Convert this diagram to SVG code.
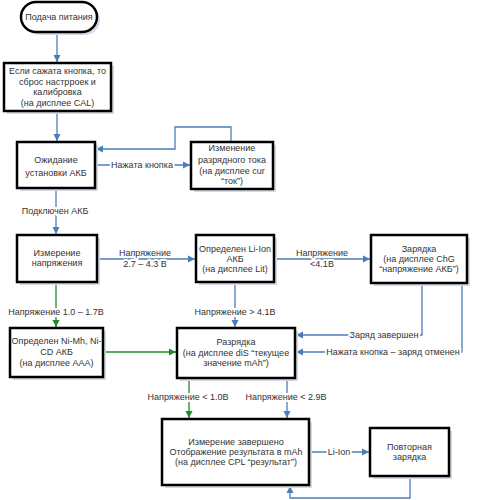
<svg xmlns="http://www.w3.org/2000/svg" width="479" height="500" viewBox="0 0 479 500">
<defs>
<style>
.box{fill:#ffffff;stroke:#000000;stroke-width:2.5}
.sh{fill:#d3dae6;stroke:none}
.t{font-family:"Liberation Sans",Arial,sans-serif;font-size:9px;fill:#333333;text-anchor:middle}
.lbl{font-family:"Liberation Sans",Arial,sans-serif;font-size:9px;fill:#333333;text-anchor:middle;stroke:#ffffff;stroke-width:4;paint-order:stroke;stroke-linejoin:round}
.cb{fill:none;stroke:#4a7ebb;stroke-width:1.3}
.cg{fill:none;stroke:#23882a;stroke-width:1.3}
</style>
<marker id="ab" markerWidth="8" markerHeight="8" refX="7" refY="4" orient="auto" markerUnits="userSpaceOnUse">
<path d="M0,0.5 L7,4 L0,7.5 Z" fill="#4a7ebb"/>
</marker>
<marker id="ag" markerWidth="8" markerHeight="8" refX="7" refY="4" orient="auto" markerUnits="userSpaceOnUse">
<path d="M0,0.5 L7,4 L0,7.5 Z" fill="#23882a"/>
</marker>
</defs>
<rect width="479" height="500" fill="#ffffff"/>

<g id="connectors">
<path class="cb" d="M57,32 V62" marker-end="url(#ab)"/>
<path class="cb" d="M57,111 V141" marker-end="url(#ab)"/>
<path class="cb" d="M96,165 H190" marker-end="url(#ab)"/>
<path class="cb" d="M231,141 V127 H175 V149 H96" marker-end="url(#ab)"/>
<path class="cb" d="M56,189 V234" marker-end="url(#ab)"/>
<path class="cb" d="M98,259 H195" marker-end="url(#ab)"/>
<path class="cb" d="M275,259 H370" marker-end="url(#ab)"/>
<path class="cb" d="M235,283 V327" marker-end="url(#ab)"/>
<path class="cg" d="M56,283 V327" marker-end="url(#ag)"/>
<path class="cg" d="M104,352 H176" marker-end="url(#ag)"/>
<path class="cb" d="M422,284 V335 H296" marker-end="url(#ab)"/>
<path class="cb" d="M462,284 V352 H296" marker-end="url(#ab)"/>
<path class="cg" d="M189,379 V418" marker-end="url(#ag)"/>
<path class="cb" d="M287,379 V418" marker-end="url(#ab)"/>
<path class="cb" d="M310,452 H369" marker-end="url(#ab)"/>
<path class="cb" d="M410,477 V498 H290 V486" marker-end="url(#ab)"/>
<text class="lbl" x="142" y="168">Нажата кнопка</text>
<text class="lbl" x="55" y="214">Подключен АКБ</text>
<text class="lbl" x="145" y="256">Напряжение</text>
<text class="lbl" x="145" y="267">2.7 – 4.3 В</text>
<text class="lbl" x="322" y="256">Напряжение</text>
<text class="lbl" x="322" y="267">&lt;4.1В</text>
<text class="lbl" x="235" y="315">Напряжение &gt; 4.1В</text>
<text class="lbl" x="56" y="315">Напряжение 1.0 – 1.7В</text>
<text class="lbl" x="384" y="338">Заряд завершен</text>
<text class="lbl" x="393" y="355">Нажата кнопка – заряд отменен</text>
<text class="lbl" x="188" y="400">Напряжение &lt; 1.0В</text>
<text class="lbl" x="286" y="400">Напряжение &lt; 2.9В</text>
<text class="lbl" x="339" y="455">Li-Ion</text>
</g>

<g id="start">
<rect class="sh" x="24" y="5" width="76" height="30" rx="15"/>
<rect class="box" x="21" y="2" width="76" height="30" rx="15"/>
<text class="t" x="59" y="20">Подача питания</text>
</g>

<g id="reset">
<rect class="sh" x="7" y="66" width="107" height="48"/>
<rect class="box" x="4" y="63" width="107" height="48"/>
<text class="t" x="57.5" y="74">Если сажата кнопка, то</text>
<text class="t" x="57.5" y="85">сброс настрроек и</text>
<text class="t" x="57.5" y="95">калибровка</text>
<text class="t" x="57.5" y="106">(на дисплее CAL)</text>
</g>

<g id="wait">
<rect class="sh" x="20" y="145" width="78" height="46"/>
<rect class="box" x="17" y="142" width="78" height="46"/>
<text class="t" x="56" y="163">Ожидание</text>
<text class="t" x="56" y="176">установки АКБ</text>
</g>

<g id="current">
<rect class="sh" x="194" y="145" width="82" height="47"/>
<rect class="box" x="191" y="142" width="82" height="47"/>
<text class="t" x="232" y="151">Изменение</text>
<text class="t" x="232" y="163">разрядного тока</text>
<text class="t" x="232" y="174">(на дисплее cur</text>
<text class="t" x="232" y="184">“ток”)</text>
</g>

<g id="measure">
<rect class="sh" x="20" y="238" width="80" height="47"/>
<rect class="box" x="17" y="235" width="80" height="47"/>
<text class="t" x="57" y="256">Измерение</text>
<text class="t" x="57" y="266">напряжения</text>
</g>

<g id="liion">
<rect class="sh" x="199" y="238" width="78" height="47"/>
<rect class="box" x="196" y="235" width="78" height="47"/>
<text class="t" x="235" y="252">Определен Li-Ion</text>
<text class="t" x="235" y="262">АКБ</text>
<text class="t" x="235" y="272">(на дисплее Lit)</text>
</g>

<g id="charge">
<rect class="sh" x="374" y="238" width="96" height="48"/>
<rect class="box" x="371" y="235" width="96" height="48"/>
<text class="t" x="419" y="252">Зарядка</text>
<text class="t" x="419" y="262">(на дисплее ChG</text>
<text class="t" x="419" y="272">“напряжение АКБ”)</text>
</g>

<g id="nimh">
<rect class="sh" x="13" y="331" width="93" height="49"/>
<rect class="box" x="10" y="328" width="93" height="49"/>
<text class="t" x="56.5" y="344">Определен Ni-Mh, Ni-</text>
<text class="t" x="56.5" y="355">CD АКБ</text>
<text class="t" x="56.5" y="366">(на дисплее AAA)</text>
</g>

<g id="discharge">
<rect class="sh" x="180" y="331" width="118" height="50"/>
<rect class="box" x="177" y="328" width="118" height="50"/>
<text class="t" x="236" y="345">Разрядка</text>
<text class="t" x="236" y="356">(на дисплее diS “текущее</text>
<text class="t" x="236" y="366">значение mAh”)</text>
</g>

<g id="result">
<rect class="sh" x="165" y="422" width="147" height="66"/>
<rect class="box" x="162" y="419" width="147" height="66"/>
<text class="t" x="236" y="445">Измерение завершено</text>
<text class="t" x="236" y="455">Отображение результата в mAh</text>
<text class="t" x="236" y="465">(на дисплее CPL “результат”)</text>
</g>

<g id="recharge">
<rect class="sh" x="373" y="431" width="79" height="48"/>
<rect class="box" x="370" y="428" width="79" height="48"/>
<text class="t" x="409.5" y="450">Повторная</text>
<text class="t" x="409.5" y="460">зарядка</text>
</g>
</svg>
